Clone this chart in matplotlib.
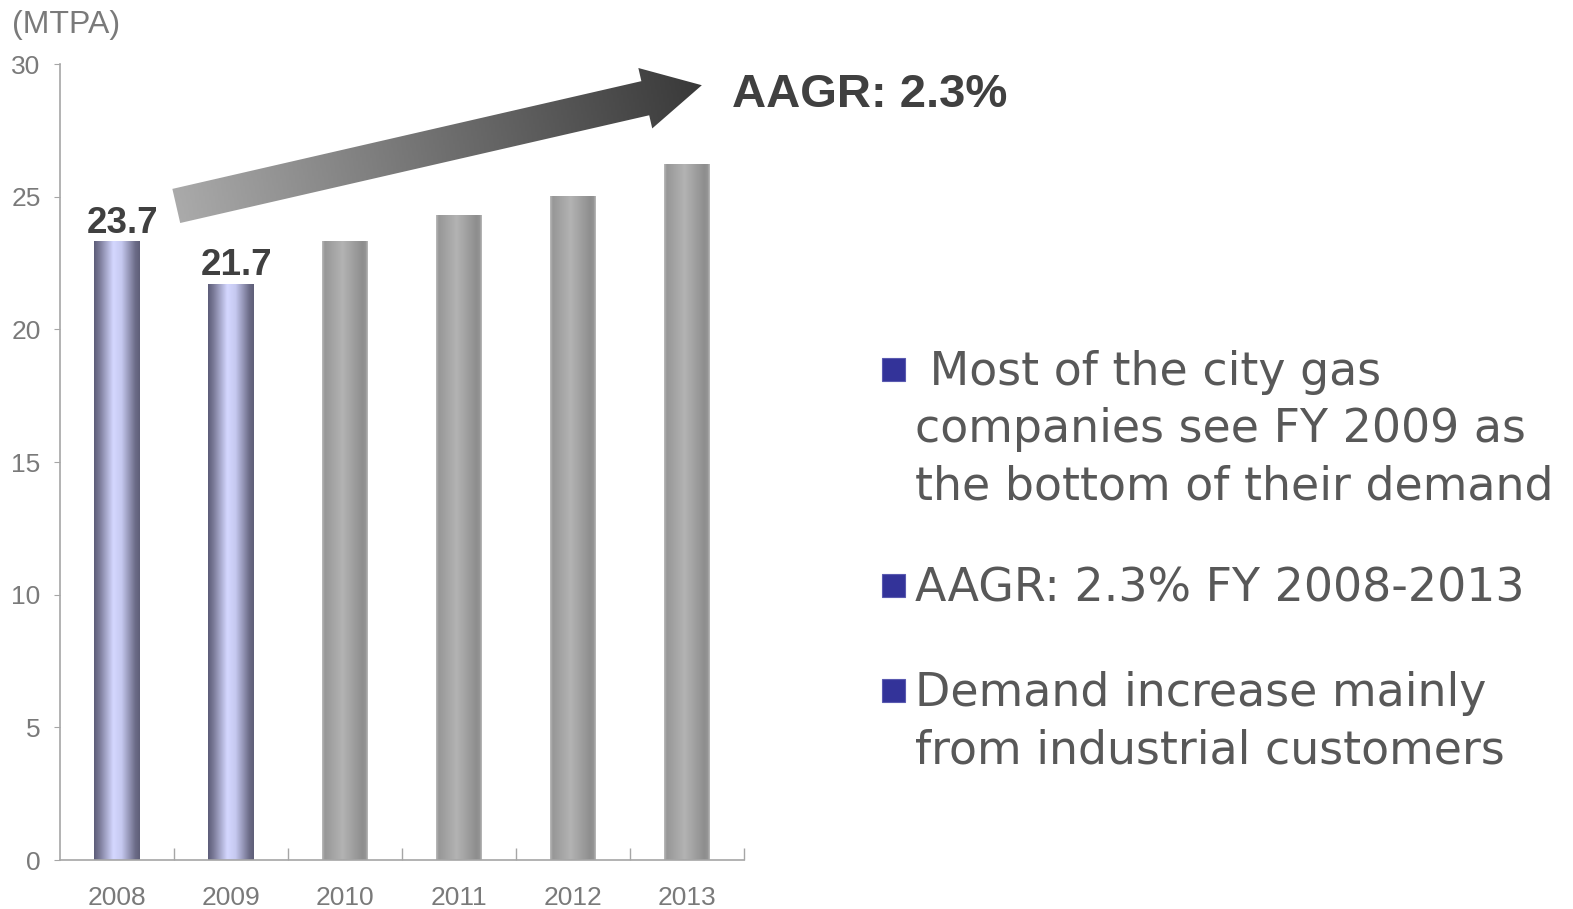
import numpy as np
import matplotlib.pyplot as plt
from matplotlib.colors import LinearSegmentedColormap
from matplotlib.patches import Polygon, Rectangle

# city gas demand, MTPA
years = ['2008', '2009', '2010', '2011', '2012', '2013']
demand = [23.3, 21.7, 23.3, 24.3, 25.0, 26.2]
actual = [True, True, False, False, False, False]
value_labels = ['23.7', '21.7']
yticks = [0, 5, 10, 15, 20, 25, 30]

aagr_text = 'AAGR: 2.3%'
bullets = [
    [' Most of the city gas', 'companies see FY 2009 as', 'the bottom of their demand'],
    ['AAGR: 2.3% FY 2008-2013'],
    ['Demand increase mainly', 'from industrial customers'],
]

W, H = 1573, 909
fig = plt.figure(figsize=(W / 100, H / 100), dpi=100)
fig.patch.set_facecolor('white')
ax = fig.add_axes([60 / W, 1 - 860 / H, 684 / W, 796 / H])

purple = LinearSegmentedColormap.from_list('purple', [
    (0, '#5c5c78'), (0.12, '#7a7a98'), (0.42, '#d4d7ff'),
    (0.6, '#c6c9f0'), (0.9, '#6c6c88'), (1, '#5e5e78')])
grey = LinearSegmentedColormap.from_list('grey', [
    (0, '#bcbcbc'), (0.06, '#979797'), (0.45, '#b3b3b3'),
    (0.88, '#8e8e8e'), (0.95, '#939393'), (1, '#bcbcbc')])
grad = np.linspace(0, 1, 256).reshape(1, -1)
bw = 0.4
for i, (v, a) in enumerate(zip(demand, actual)):
    ax.imshow(grad, cmap=purple if a else grey, extent=[i - bw / 2, i + bw / 2, 0, v],
              aspect='auto', zorder=2, interpolation='bilinear')

for i, lab in enumerate(value_labels):
    ax.annotate(lab, (i, demand[i]), xytext=(6, 9), textcoords='offset pixels',
                ha='center', va='baseline', fontsize=26.5, fontweight='bold',
                color='#404040', family='Liberation Sans')

ax.set_xlim(-0.5, 5.5)
ax.set_ylim(0, 30)
for s in ['top', 'right']:
    ax.spines[s].set_visible(False)
for s in ['left', 'bottom']:
    ax.spines[s].set_color('#a6a6a6')
    ax.spines[s].set_linewidth(1.2)

ax.set_xticks(range(len(years)))
ax.set_xticklabels(years, family='Liberation Sans')
ax.set_xticks(np.arange(0.5, len(years), 1), minor=True)
ax.tick_params(axis='x', which='major', length=0, pad=19, labelsize=19, labelcolor='#7a7a7a')
ax.tick_params(axis='x', which='minor', direction='in', length=9, color='#a6a6a6', width=1)
ax.set_yticks(yticks)
ax.set_yticklabels([str(t) for t in yticks], family='Liberation Sans')
ax.tick_params(axis='y', length=4, color='#a6a6a6', labelsize=19, labelcolor='#7a7a7a', pad=10)

fig.text(12 / W, 1 - 25 / H, '(MTPA)', fontsize=23, color='#7a7a7a',
         family='Liberation Sans', va='center', ha='left')

# overlay in pixel coords for arrow and bullet text
ov = fig.add_axes([0, 0, 1, 1], zorder=3)
ov.axis('off')

tail = ax.transData.transform((0.52, 24.65))
tip = ax.transData.transform((5.13, 29.2))
d = tip - tail
L = np.hypot(*d)
u = d / L
n = np.array([-u[1], u[0]])
sw, hw, hl = 17.5, 31, 58
base = tip - u * hl
pts = [tail + n * sw, base + n * sw, base + n * hw, tip,
       base - n * hw, base - n * sw, tail - n * sw]
poly = Polygon(pts, closed=True, fc='none', ec='none')
ov.add_patch(poly)
xs = np.linspace(min(p[0] for p in pts), max(p[0] for p in pts), 300)
ys = np.linspace(min(p[1] for p in pts), max(p[1] for p in pts), 120)
X, Y = np.meshgrid(xs, ys)
proj = ((X - tail[0]) * u[0] + (Y - tail[1]) * u[1]) / L
arrow_cmap = LinearSegmentedColormap.from_list('arr', ['#aaaaaa', '#707070', '#393939'])
im = ov.imshow(proj, cmap=arrow_cmap, origin='lower', aspect='auto', vmin=0, vmax=1,
               extent=[xs[0], xs[-1], ys[0], ys[-1]], interpolation='bilinear')
im.set_clip_path(poly)

ov.text(732, H - 95, aagr_text, fontsize=34, fontweight='bold', color='#404040',
        family='Liberation Sans', va='center', ha='left')

baselines = [[385, 442, 499], [601], [706, 763]]
for lines, bls in zip(bullets, baselines):
    ov.add_patch(Rectangle((882, H - bls[0] + 4), 23, 23, fc='#333399', ec='#5a5ab0', lw=0.8))
    for line, b in zip(lines, bls):
        ov.text(915, H - b, line, fontsize=33, color='#585858',
                family='DejaVu Sans', va='baseline', ha='left')

ov.set_xlim(0, W)
ov.set_ylim(0, H)

fig.savefig('out.png', dpi=100)
